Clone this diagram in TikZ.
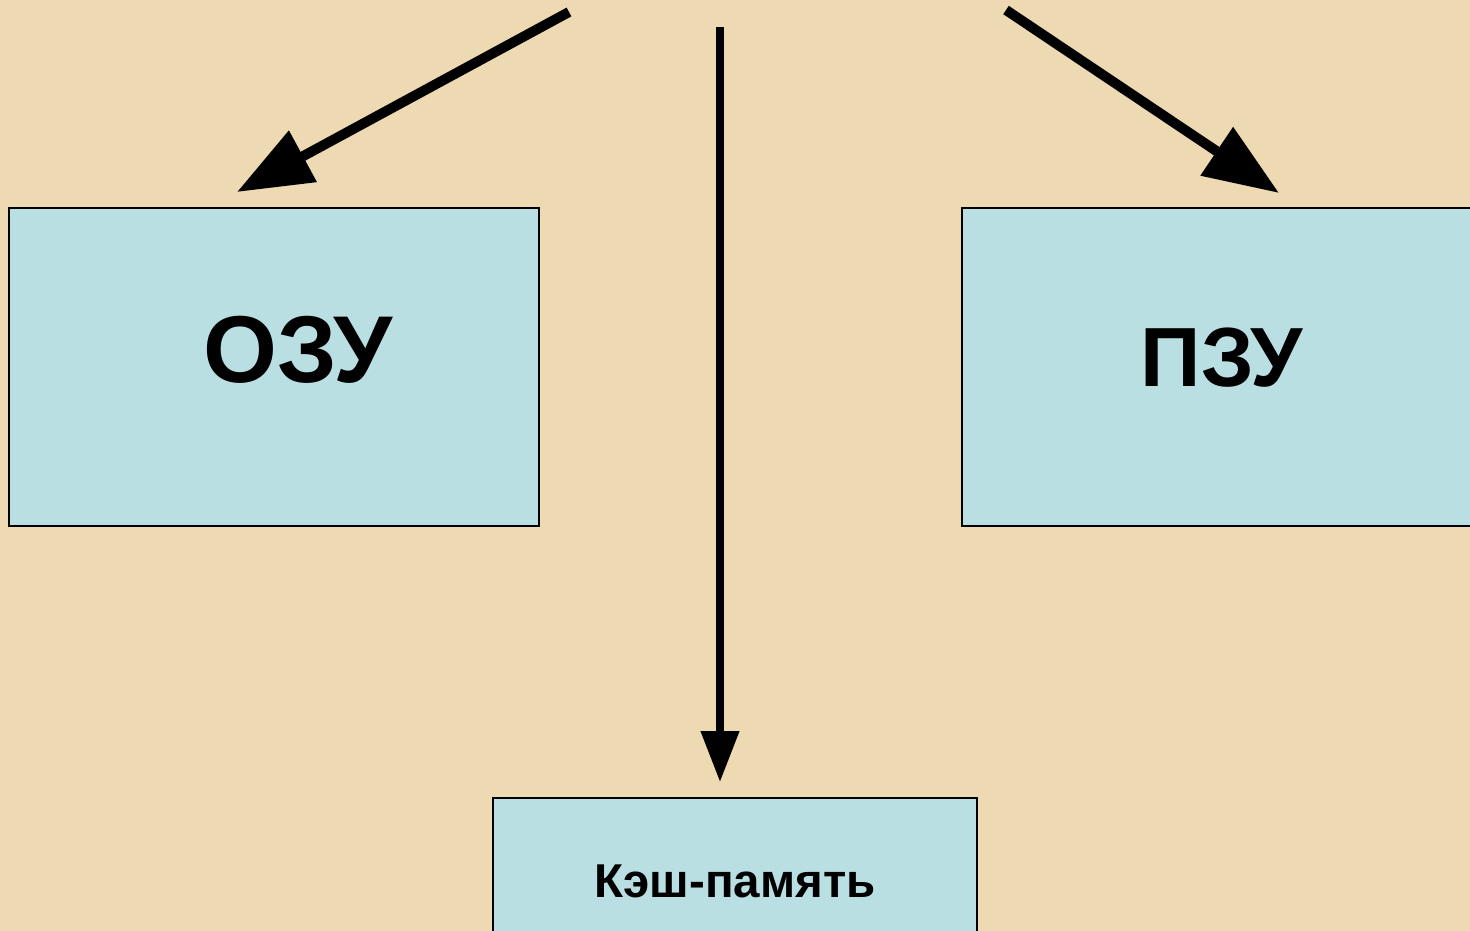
\documentclass[tikz,border=0pt]{standalone}
\usepackage{fontspec}
\setmainfont{Liberation Sans}
\usetikzlibrary{arrows.meta}
\definecolor{bg}{HTML}{EDD9B2}
\definecolor{boxfill}{HTML}{B9DFE3}
\tikzset{
  membox/.style={draw=black, line width=1.5pt, fill=boxfill},
  bigarrow/.style={line width=10pt, -{Triangle[length=75pt,width=56pt]}},
  midarrow/.style={line width=7.5pt, -{Triangle[length=51pt,width=37pt]}},
}
\begin{document}
\begin{tikzpicture}[x=1pt,y=-1pt]
  \fill[bg] (0,0) rectangle (1470,931);
  \useasboundingbox (0,0) rectangle (1470,931);
  % boxes
  \draw[membox] (9,208) rectangle (539,526);
  \draw[membox] (962,208) rectangle (1480,526);
  \draw[membox] (493,798) rectangle (977,945);
  \node (ozu) at (298,350) {\fontsize{95}{95}\selectfont\bfseries ОЗУ};
  \node (pzu) at (1222,358) {\fontsize{84}{84}\selectfont\bfseries ПЗУ};
  \node (cache) at (735,881) {\fontsize{47.5}{47.5}\selectfont\bfseries Кэш-память};
  % connector endpoints
  \coordinate (lstart) at (569,12);
  \coordinate (ltip) at (237,192);
  \coordinate (mstart) at (720,27);
  \coordinate (mtip) at (720,782);
  \coordinate (rstart) at (1006,10);
  \coordinate (rtip) at (1279,193);
  \draw[bigarrow] (lstart) -- (ltip);
  \draw[midarrow] (mstart) -- (mtip);
  \draw[bigarrow] (rstart) -- (rtip);
\end{tikzpicture}
\end{document}
